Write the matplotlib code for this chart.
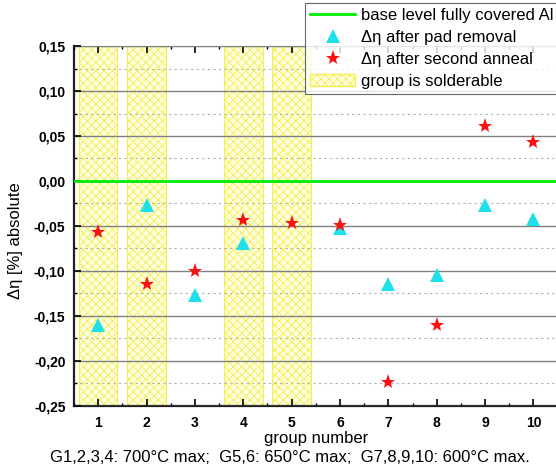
import matplotlib
matplotlib.use('Agg')
import matplotlib.pyplot as plt
from matplotlib.lines import Line2D
from matplotlib.patches import Patch
from matplotlib.ticker import MultipleLocator, FuncFormatter

plt.rcParams['font.family'] = ['Liberation Sans', 'DejaVu Sans']
plt.rcParams['hatch.color'] = '#f2ee50'
plt.rcParams['hatch.linewidth'] = 0.6

# data
groups = [1, 2, 3, 4, 5, 6, 7, 8, 9, 10]
pad_removal = [-0.160, -0.027, -0.127, -0.069, None, -0.052, -0.114, -0.104, -0.027, -0.042]
second_anneal = [-0.057, -0.115, -0.100, -0.043, -0.047, -0.049, -0.223, -0.160, 0.061, 0.043]
solderable = [1, 2, 4, 5]
base_level = 0.0

fig = plt.figure(figsize=(5.56, 4.68), dpi=100)
ax = fig.add_axes([0.133, 0.1325, 0.87, 0.7692])

# solderable bands
for g in solderable:
    ax.axvspan(g - 0.4, g + 0.4, facecolor='#ffffe0', edgecolor='#f2ee50',
               hatch='xxxx', linewidth=0.8, zorder=1)

ax.set_ylim(-0.25, 0.15)
ax.set_xlim(0.5, 10.5)
ax.yaxis.set_major_locator(MultipleLocator(0.05))
ax.yaxis.set_minor_locator(MultipleLocator(0.025))
ax.xaxis.set_major_locator(MultipleLocator(1))
ax.xaxis.set_minor_locator(MultipleLocator(0.5))
ax.grid(which='major', axis='y', color='#808080', linewidth=1.0, zorder=2)
ax.grid(which='minor', axis='y', color='#b0b0b0', linewidth=0.8, linestyle=(0, (2, 3)), zorder=2)
ax.set_axisbelow(False)

ax.axhline(base_level, color='#00ee00', linewidth=2, zorder=3)

px = [g for g, v in zip(groups, pad_removal) if v is not None]
pv = [v for v in pad_removal if v is not None]
ax.plot(px, pv, linestyle='none', marker='^', color='#1ee0ea', markersize=10,
        markeredgewidth=0, zorder=4)
ax.plot(groups, second_anneal, linestyle='none', marker='*', color='#ff1010',
        markersize=11, markeredgewidth=0, zorder=5)

ax.yaxis.set_major_formatter(FuncFormatter(lambda v, p: f"{v:.2f}".replace('.', ',').replace('-0,00', '0,00')))
ax.tick_params(axis='both', which='both', direction='in', top=True, right=False)
ax.tick_params(axis='both', which='major', length=5, width=1.2, labelsize=10)
ax.tick_params(axis='x', which='major', pad=7)
ax.tick_params(axis='y', which='major', pad=6)
ax.tick_params(axis='both', which='minor', length=2.5, width=1)
for lab in ax.get_xticklabels() + ax.get_yticklabels():
    lab.set_fontweight('bold')

for s in ['left', 'bottom']:
    ax.spines[s].set_linewidth(1.6)
    ax.spines[s].set_color('#202020')
ax.spines['top'].set_color('#707070')
ax.spines['right'].set_visible(False)

ax.set_xlabel('group number', fontsize=12, labelpad=1)
ax.set_ylabel('Δη [%] absolute', fontsize=12)
ax.yaxis.set_label_coords(-0.105, 0.46)
fig.text(0.522, 0.006, 'G1,2,3,4: 700°C max;  G5,6: 650°C max;  G7,8,9,10: 600°C max.',
         ha='center', va='bottom', fontsize=12)

handles = [
    Line2D([], [], color='#00ee00', linewidth=2),
    Line2D([], [], linestyle='none', marker='^', color='#1ee0ea', markersize=10, markeredgewidth=0),
    Line2D([], [], linestyle='none', marker='*', color='#ff1010', markersize=11, markeredgewidth=0),
    Patch(facecolor='#ffffe0', edgecolor='#f2ee50', hatch='xxxx'),
]
labels = ['base level fully covered Al', 'Δη after pad removal',
          'Δη after second anneal', 'group is solderable']
leg = fig.legend(handles, labels, loc='upper left', bbox_to_anchor=(0.549, 0.994),
                 fontsize=12, frameon=True, fancybox=False, edgecolor='#404040',
                 borderpad=0.3, labelspacing=0.42, handlelength=2.7, handletextpad=0.35,
                 borderaxespad=0)
leg.get_frame().set_linewidth(0.8)

fig.savefig('out.png', dpi=100)
